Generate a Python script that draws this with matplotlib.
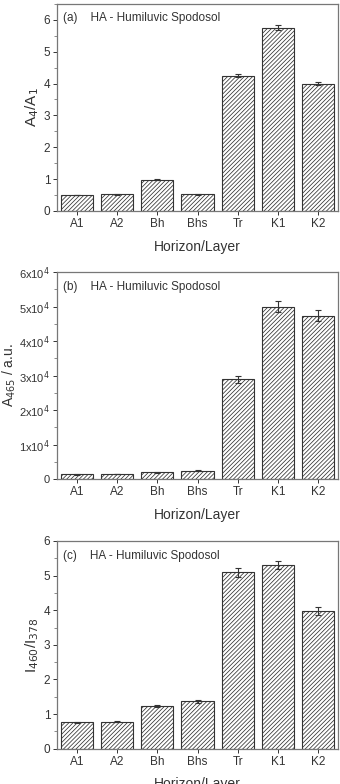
import matplotlib.pyplot as plt
from matplotlib.ticker import MultipleLocator, FuncFormatter

plt.rcParams['font.family'] = ['Liberation Sans', 'DejaVu Sans']
plt.rcParams['hatch.linewidth'] = 0.55
plt.rcParams['hatch.color'] = '#555555'

# data
layers = ["A1", "A2", "Bh", "Bhs", "Tr", "K1", "K2"]

a4a1 = [0.50, 0.52, 0.98, 0.52, 4.25, 5.75, 4.00]
a4a1_err = [0.01, 0.01, 0.02, 0.01, 0.05, 0.08, 0.05]

a465 = [1350, 1450, 1950, 2400, 28900, 50000, 47300]
a465_err = [100, 100, 120, 150, 1100, 1700, 1600]

i460 = [0.76, 0.78, 1.24, 1.37, 5.10, 5.30, 3.97]
i460_err = [0.02, 0.02, 0.03, 0.04, 0.13, 0.12, 0.11]

title = "HA - Humiluvic Spodosol"

fig = plt.figure(figsize=(3.4, 7.84), dpi=100)

panels = [
    # (rect, values, errors, ylabel, tag, ylim, major, minor, sci)
    ([0.168, 0.731, 0.826, 0.264], a4a1, a4a1_err, "A$_4$/A$_1$", "(a)", 6.5, 1, 0.5, False),
    ([0.168, 0.389, 0.826, 0.264], a465, a465_err, "A$_{465}$ / a.u.", "(b)", 60000, 10000, 5000, True),
    ([0.168, 0.045, 0.826, 0.265], i460, i460_err, "I$_{460}$/I$_{378}$", "(c)", 6, 1, 0.5, False),
]

for rect, vals, errs, ylab, tag, ytop, major, minor, sci in panels:
    ax = fig.add_axes(rect)
    ax.bar(range(len(layers)), vals, width=0.8, color='white', edgecolor='#333333',
           linewidth=0.8, hatch='////////', yerr=errs, capsize=2,
           error_kw=dict(ecolor='#333333', elinewidth=0.8, capthick=0.8))
    ax.set_xlim(-0.5, 6.5)
    ax.set_ylim(0, ytop)
    ax.set_xticks(range(len(layers)))
    ax.set_xticklabels(layers)
    ax.yaxis.set_major_locator(MultipleLocator(major))
    ax.yaxis.set_minor_locator(MultipleLocator(minor))
    if sci:
        ax.yaxis.set_major_formatter(FuncFormatter(
            lambda v, p: "0" if v == 0 else "%dx10$^{4}$" % round(v / 10000)))
    for s in ax.spines.values():
        s.set_color('#777777')
        s.set_linewidth(0.9)
    ax.tick_params(axis='both', direction='out', labelsize=8.5, colors='#333333',
                   length=3, width=0.7, pad=2)
    ax.tick_params(axis='y', which='minor', direction='out', length=2, width=0.6, colors='#777777')
    ax.set_xlabel("Horizon/Layer", fontsize=10, color='#333333', labelpad=7)
    if sci:
        ax.tick_params(axis='y', labelsize=8)
        ax.set_ylabel(ylab, fontsize=10, color='#333333')
        ax.yaxis.set_label_coords(-0.14, 0.5)
    else:
        ax.set_ylabel(ylab, fontsize=11, color='#333333', labelpad=2)
    ax.text(0.02, 0.93, tag + "    " + title, transform=ax.transAxes, fontsize=8.5,
            color='#333333', va='center', ha='left')

fig.savefig("out.png", dpi=100)
